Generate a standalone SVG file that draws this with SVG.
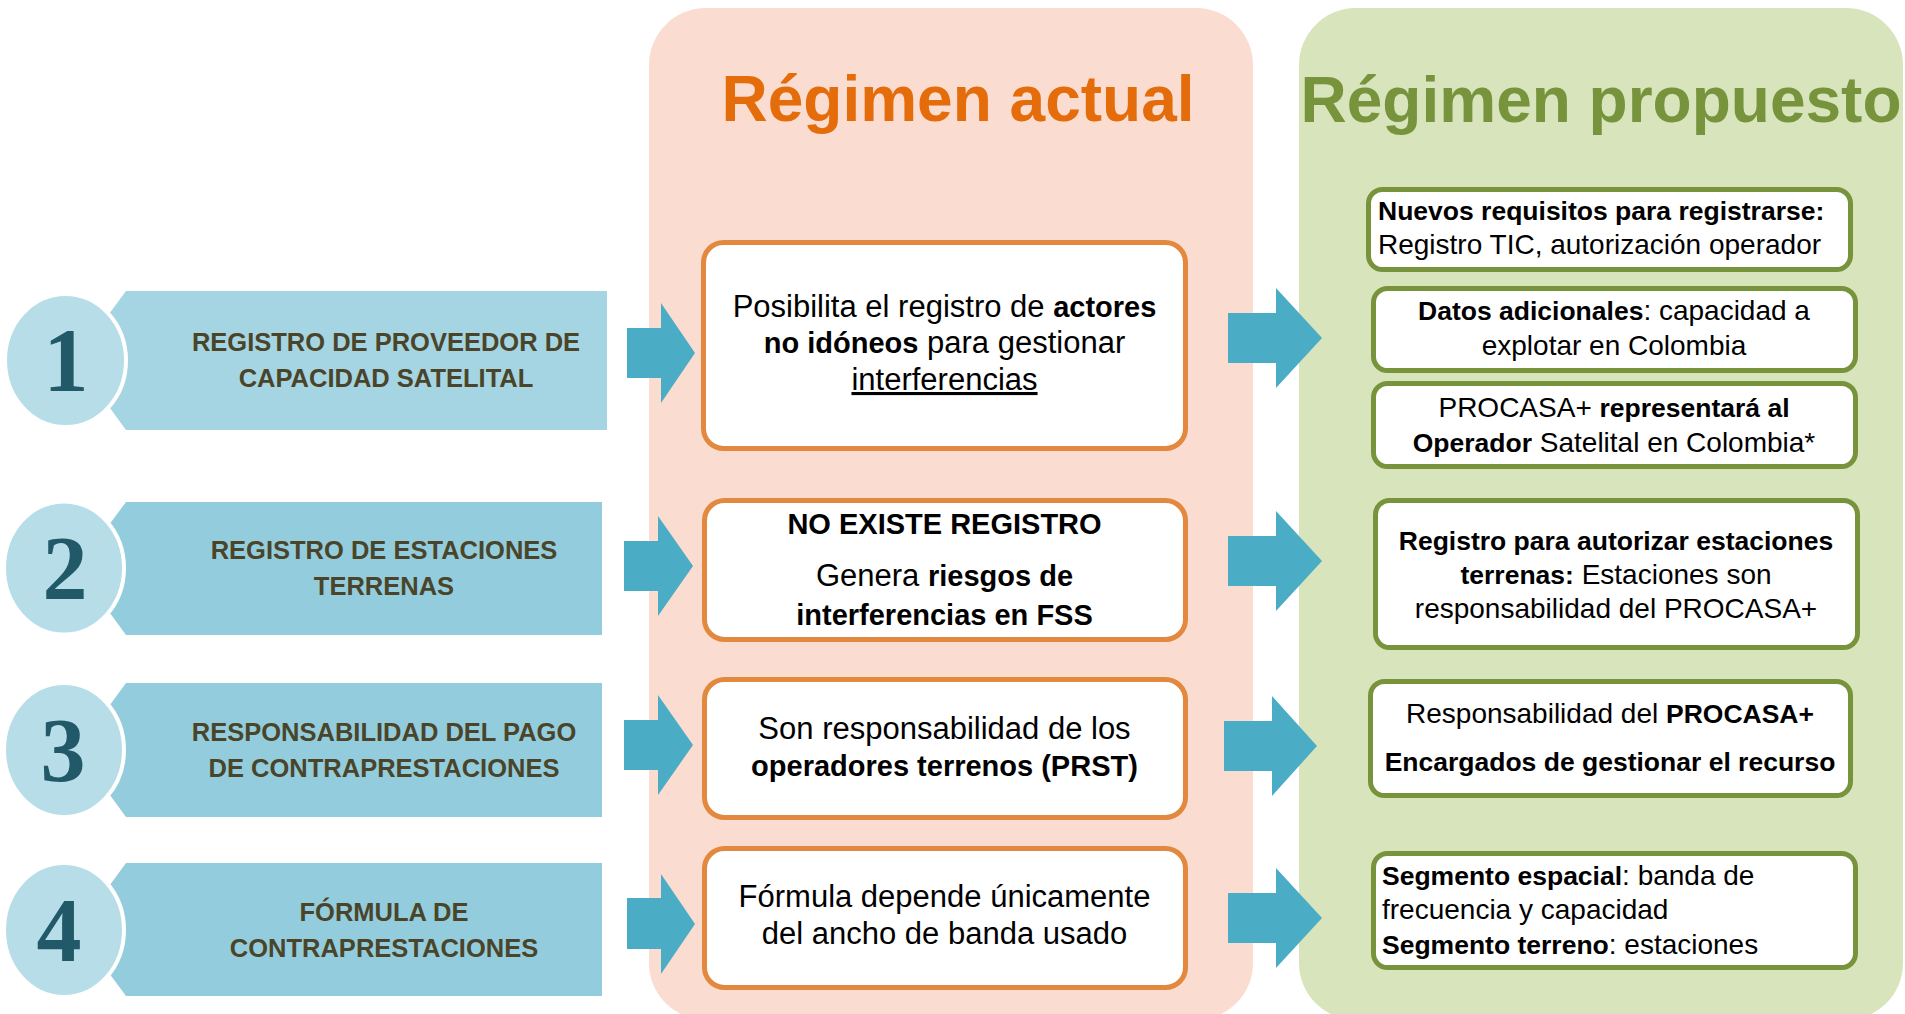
<svg xmlns="http://www.w3.org/2000/svg" width="1905" height="1014" viewBox="0 0 1905 1014">
<style>
text{font-family:"Liberation Sans",Arial,sans-serif;}
.title{font-size:64px;font-weight:bold;text-anchor:middle;}
.num{font-family:"Liberation Serif","DejaVu Serif",serif;font-size:90px;font-weight:bold;fill:#215968;text-anchor:middle;}
.circ{fill:#B7DEE8;stroke:#FFFFFF;stroke-width:4;}
.lbl{font-size:25.5px;font-weight:bold;fill:#4A452A;text-anchor:middle;}
.mbox{fill:#FFFFFF;stroke:#E2893F;stroke-width:5;}
.gbox{fill:#FFFFFF;stroke:#77933C;stroke-width:5;}
.mt{font-size:31px;fill:#000;text-anchor:middle;}
.mb{font-weight:bold;font-size:29px;}
.rt{font-size:28px;fill:#000;}
.rb{font-weight:bold;font-size:26.5px;}
.arrow{fill:#4BACC6;}
</style>

<g id="panel-actual">
<rect x="649" y="8" width="604" height="1012" rx="57" ry="57" fill="#FBDCD0"/>
<text class="title" x="958" y="121" fill="#E46C0A">Régimen actual</text>
</g>
<g id="panel-propuesto">
<rect x="1299" y="8" width="604" height="1012" rx="57" ry="57" fill="#D8E4BC"/>
<text class="title" x="1601" y="122" fill="#77933C">Régimen propuesto</text>
</g>

<g id="row1">
<polygon points="126,291 607,291 607,430 126,430 75,360" fill="#A5D5E2"/>
<ellipse class="circ" cx="65.5" cy="360.5" rx="60.5" ry="66.5"/>
<text class="num" x="66" y="391">1</text>
<text class="lbl" x="386" y="351">REGISTRO DE PROVEEDOR DE</text>
<text class="lbl" x="386" y="387">CAPACIDAD SATELITAL</text>
</g>
<g id="row2">
<polygon points="126,502 602,502 602,635 126,635 77,568" fill="#93CDDD"/>
<ellipse class="circ" cx="64" cy="568" rx="60" ry="66.5"/>
<text class="num" x="65" y="599">2</text>
<text class="lbl" x="384" y="559">REGISTRO DE ESTACIONES</text>
<text class="lbl" x="384" y="595">TERRENAS</text>
</g>
<g id="row3">
<polygon points="126,683 602,683 602,817 126,817 77,750" fill="#93CDDD"/>
<ellipse class="circ" cx="64" cy="750" rx="60" ry="67"/>
<text class="num" x="63" y="781">3</text>
<text class="lbl" x="384" y="741">RESPONSABILIDAD DEL PAGO</text>
<text class="lbl" x="384" y="777">DE CONTRAPRESTACIONES</text>
</g>
<g id="row4">
<polygon points="126,863 602,863 602,996 126,996 77,930" fill="#93CDDD"/>
<ellipse class="circ" cx="64" cy="930" rx="60" ry="67"/>
<text class="num" x="59" y="961">4</text>
<text class="lbl" x="384" y="921">FÓRMULA DE</text>
<text class="lbl" x="384" y="957">CONTRAPRESTACIONES</text>
</g>

<g id="actual1">
<rect class="mbox" x="703.5" y="242.5" width="482" height="206" rx="20"/>
<text class="mt" x="944.5" y="317">Posibilita el registro de <tspan class="mb">actores</tspan></text>
<text class="mt" x="944.5" y="353"><tspan class="mb">no idóneos</tspan> para gestionar</text>
<text class="mt" x="944.5" y="390" text-decoration="underline">interferencias</text>
</g>
<g id="actual2">
<rect class="mbox" x="704.5" y="500.5" width="481" height="139" rx="20"/>
<text class="mt mb" x="944.5" y="534" font-size="26">NO EXISTE REGISTRO</text>
<text class="mt" x="944.5" y="586">Genera <tspan class="mb">riesgos de</tspan></text>
<text class="mt mb" x="944.5" y="625">interferencias en FSS</text>
</g>
<g id="actual3">
<rect class="mbox" x="704.5" y="679.5" width="481" height="138" rx="20"/>
<text class="mt" x="944.5" y="739">Son responsabilidad de los</text>
<text class="mt mb" x="944.5" y="776">operadores terrenos (PRST)</text>
</g>
<g id="actual4">
<rect class="mbox" x="704.5" y="848.5" width="481" height="139" rx="20"/>
<text class="mt" x="944.5" y="907">Fórmula depende únicamente</text>
<text class="mt" x="944.5" y="944">del ancho de banda usado</text>
</g>

<g id="prop1a">
<rect class="gbox" x="1368.5" y="189.5" width="482" height="80" rx="14"/>
<text class="rt rb" x="1378" y="220">Nuevos requisitos para registrarse:</text>
<text class="rt" x="1378" y="254">Registro TIC, autorización operador</text>
</g>
<g id="prop1b">
<rect class="gbox" x="1373.5" y="288.5" width="482" height="82" rx="14"/>
<text class="rt" x="1614" y="320" text-anchor="middle"><tspan class="rb">Datos adicionales</tspan>: capacidad a</text>
<text class="rt" x="1614" y="355" text-anchor="middle">explotar en Colombia</text>
</g>
<g id="prop1c">
<rect class="gbox" x="1373.5" y="383.5" width="482" height="83" rx="14"/>
<text class="rt" x="1614" y="417" text-anchor="middle">PROCASA+ <tspan class="rb">representará al</tspan></text>
<text class="rt" x="1614" y="452" text-anchor="middle"><tspan class="rb">Operador</tspan> Satelital en Colombia*</text>
</g>
<g id="prop2">
<rect class="gbox" x="1375.5" y="500.5" width="482" height="147" rx="14"/>
<text class="rt rb" x="1616" y="550" text-anchor="middle">Registro para autorizar estaciones</text>
<text class="rt" x="1616" y="584" text-anchor="middle"><tspan class="rb">terrenas:</tspan> Estaciones son</text>
<text class="rt" x="1616" y="618" text-anchor="middle">responsabilidad del PROCASA+</text>
</g>
<g id="prop3">
<rect class="gbox" x="1370.5" y="681.5" width="480" height="114" rx="14"/>
<text class="rt" x="1610" y="723" text-anchor="middle">Responsabilidad del <tspan class="rb">PROCASA+</tspan></text>
<text class="rt rb" x="1610" y="771" text-anchor="middle">Encargados de gestionar el recurso</text>
</g>
<g id="prop4">
<rect class="gbox" x="1373.5" y="853.5" width="482" height="114" rx="14"/>
<text class="rt" x="1382" y="885"><tspan class="rb">Segmento espacial</tspan>: banda de</text>
<text class="rt" x="1382" y="919">frecuencia y capacidad</text>
<text class="rt" x="1382" y="954"><tspan class="rb">Segmento terreno</tspan>: estaciones</text>
</g>

<g id="connectors">
<polygon class="arrow" points="627,328 661,328 661,303 695,353 661,403 661,378 627,378"/>
<polygon class="arrow" points="624,541 658,541 658,516 693,566 658,616 658,591 624,591"/>
<polygon class="arrow" points="624,720 658,720 658,695 693,745 658,795 658,770 624,770"/>
<polygon class="arrow" points="627,898 661,898 661,874 695,924 661,974 661,949 627,949"/>
<polygon class="arrow" points="1228,313 1276,313 1276,288 1322,338 1276,388 1276,363 1228,363"/>
<polygon class="arrow" points="1228,536 1276,536 1276,511 1322,561 1276,611 1276,586 1228,586"/>
<polygon class="arrow" points="1224,721 1272,721 1272,696 1317,746 1272,796 1272,771 1224,771"/>
<polygon class="arrow" points="1228,893 1276,893 1276,868 1322,918 1276,968 1276,943 1228,943"/>
</g>
</svg>
